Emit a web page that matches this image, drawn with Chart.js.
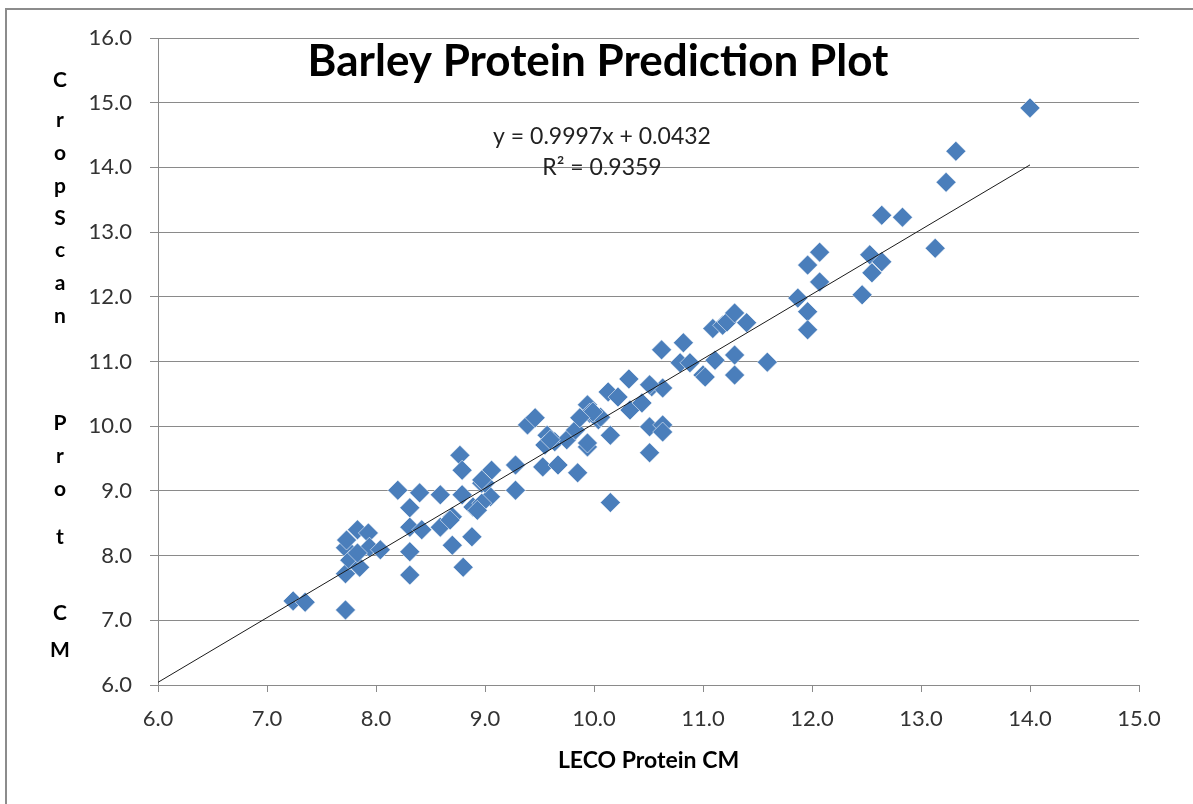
<!DOCTYPE html>
<html>
<head>
<meta charset="utf-8">
<title>Barley Protein Prediction Plot</title>
<script src="https://cdn.jsdelivr.net/npm/chart.js@4"></script>
<style>
    body { margin: 0; background: #fff; }
    .moldura {
        position: absolute;
        left: 5px;
        top: 8px;
        width: 1200px;
        height: 820px;
        border-left: 2px solid #8c8c8c;
        border-top: 2px solid #8c8c8c;
    }
    #grafico { position: absolute; left: 0; top: 0; }
</style>
</head>
<body>
<div class="moldura"></div>
<canvas id="grafico" width="1193" height="804"></canvas>
<script>
// LECO protein (x) vs CropScan protein (y)
const lecoProt = [
    7.24, 7.35, 7.72, 7.72, 7.72, 7.73, 7.83, 7.93, 7.94, 8.04,
    7.76, 7.85, 7.83, 8.20, 8.31, 8.40, 8.31, 8.42, 8.31, 8.31,
    8.59, 8.77, 8.79, 8.59, 8.70, 8.88, 8.80, 8.70, 8.79, 8.89,
    8.97, 9.06, 9.05, 8.97, 8.68, 8.93, 9.28, 9.28, 9.00, 9.39,
    9.46, 9.57, 9.55, 9.53, 9.67, 9.85, 10.15, 9.64, 9.75, 9.83,
    9.94, 9.96, 9.94, 10.04, 10.15, 10.13, 10.22, 10.32, 10.62, 10.82,
    10.79, 10.88, 11.00, 11.11, 11.09, 11.18, 10.33, 10.44, 10.53, 10.63,
    10.51, 10.63, 10.63, 10.51, 10.06, 11.22, 11.29, 11.40, 11.29, 11.29,
    11.59, 11.02, 11.87, 11.96, 11.96, 12.07, 11.96, 12.07, 12.53, 12.64,
    12.55, 12.46, 12.64, 12.83, 14.00, 13.32, 13.23, 13.13, 9.99, 9.87,
    9.60, 9.94, 10.51, 8.97
];
const cropScanProt = [
    7.30, 7.28, 7.16, 7.72, 8.12, 8.24, 8.40, 8.35, 8.13, 8.09,
    7.93, 7.82, 8.04, 9.01, 8.74, 8.97, 8.44, 8.40, 8.06, 7.70,
    8.94, 9.55, 9.32, 8.44, 8.16, 8.29, 7.82, 8.60, 8.94, 8.75,
    9.12, 9.32, 8.91, 8.81, 8.55, 8.70, 9.40, 9.01, 9.12, 10.02,
    10.13, 9.86, 9.71, 9.37, 9.40, 9.28, 8.82, 9.76, 9.79, 9.94,
    10.33, 10.20, 9.68, 10.10, 9.86, 10.53, 10.45, 10.73, 11.18, 11.29,
    10.98, 10.98, 10.79, 11.02, 11.51, 11.56, 10.25, 10.36, 10.61, 10.59,
    9.99, 10.02, 9.91, 9.59, 10.14, 11.61, 11.75, 11.60, 11.10, 10.79,
    10.99, 10.76, 11.98, 11.77, 11.49, 12.69, 12.49, 12.23, 12.65, 12.54,
    12.37, 12.03, 13.26, 13.23, 14.92, 14.25, 13.77, 12.75, 10.22, 10.13,
    9.79, 9.74, 10.64, 9.17
];

// linha de tendencia (Excel)
const inclinacao = 0.9997;
const intercepto = 0.0432;
const r2 = 0.9359;
const trendX = [6, 14];

const xTicks = [6, 7, 8, 9, 10, 11, 12, 13, 14, 15];
const yTicks = [6, 7, 8, 9, 10, 11, 12, 13, 14, 15, 16];

// letras do titulo vertical e a altura de cada uma
const yTituloLetras = ['C','r','o','p','S','c','a','n','P','r','o','t','C','M'];
const yTituloPos = [80, 120, 153, 186, 218, 250, 283, 316, 423, 456, 489, 537, 613, 650];

const fonte = 'Lato, "Open Sans", sans-serif';

function criaPontos(xs, ys) {
    const pts = [];
    for (let i = 0; i < xs.length; i++) {
        pts.push({x: xs[i], y: ys[i]});
    }
    return pts;
}

const trendPts = trendX.map(x => ({x: x, y: inclinacao * x + intercepto}));

//textos desenhados por cima
const textosExtras = {
    id: 'textosExtras',
    afterDraw(chart) {
        const ctx = chart.ctx;
        ctx.save();
        ctx.fillStyle = '#000';
        ctx.textAlign = 'center';
        ctx.textBaseline = 'middle';

        ctx.font = 'bold 44px ' + fonte;
        ctx.fillText('Barley Protein Prediction Plot', 598, 62);

        ctx.font = '23px ' + fonte;
        ctx.fillStyle = '#222';
        ctx.fillText('y = ' + inclinacao + 'x + ' + intercepto, 602, 137);
        ctx.fillText('R\u00B2 = ' + r2, 602, 168);

        ctx.fillStyle = '#000';
        ctx.font = 'bold 21px ' + fonte;
        for (let i = 0; i < yTituloLetras.length; i++) {
            ctx.fillText(yTituloLetras[i], 60, yTituloPos[i]);
        }
        ctx.restore();
    }
};

const config = {
    type: 'scatter',
    data: {
        datasets: [
            {
                label: 'Linear',
                data: trendPts,
                showLine: true,
                borderColor: '#1a1a1a',
                borderWidth: 1,
                pointRadius: 0,
                order: 0
            },
            {
                label: 'Protein',
                data: criaPontos(lecoProt, cropScanProt),
                pointStyle: 'rectRot',
                pointRadius: 10,
                pointHoverRadius: 10,
                backgroundColor: '#4a7ebb',
                borderColor: 'rgba(255,255,255,0.55)',
                borderWidth: 1,
                order: 1
            }
        ]
    },
    options: {
        responsive: false,
        animation: false,
        layout: {
            padding: {left: 0, top: 38, right: 54, bottom: 0}
        },
        plugins: {
            legend: {display: false},
            tooltip: {enabled: false}
        },
        scales: {
            x: {
                type: 'linear',
                min: 6,
                max: 15,
                afterBuildTicks: s => { s.ticks = xTicks.map(v => ({value: v})); },
                afterFit: s => { s.height = 804 - 685; },
                grid: {
                    drawOnChartArea: false,
                    drawTicks: true,
                    tickLength: 7,
                    color: '#8a8a8a'
                },
                border: {color: '#8a8a8a', width: 1},
                ticks: {
                    padding: 14,
                    color: '#333',
                    font: {family: fonte, size: 22},
                    callback: v => v.toFixed(1)
                },
                title: {
                    display: true,
                    text: 'LECO Protein CM',
                    color: '#000',
                    font: {family: fonte, size: 23, weight: 'bold'},
                    padding: {top: 0, bottom: 30}
                }
            },
            y: {
                type: 'linear',
                min: 6,
                max: 16,
                afterBuildTicks: s => { s.ticks = yTicks.map(v => ({value: v})); },
                afterFit: s => { s.width = 158; },
                grid: {
                    drawTicks: true,
                    tickLength: 8,
                    color: '#8a8a8a'
                },
                border: {color: '#8a8a8a', width: 1},
                ticks: {
                    padding: 18,
                    color: '#333',
                    font: {family: fonte, size: 22},
                    callback: v => v.toFixed(1)
                }
            }
        }
    },
    plugins: [textosExtras]
};

const meuGrafico = new Chart(document.getElementById('grafico'), config);
</script>
</body>
</html>
